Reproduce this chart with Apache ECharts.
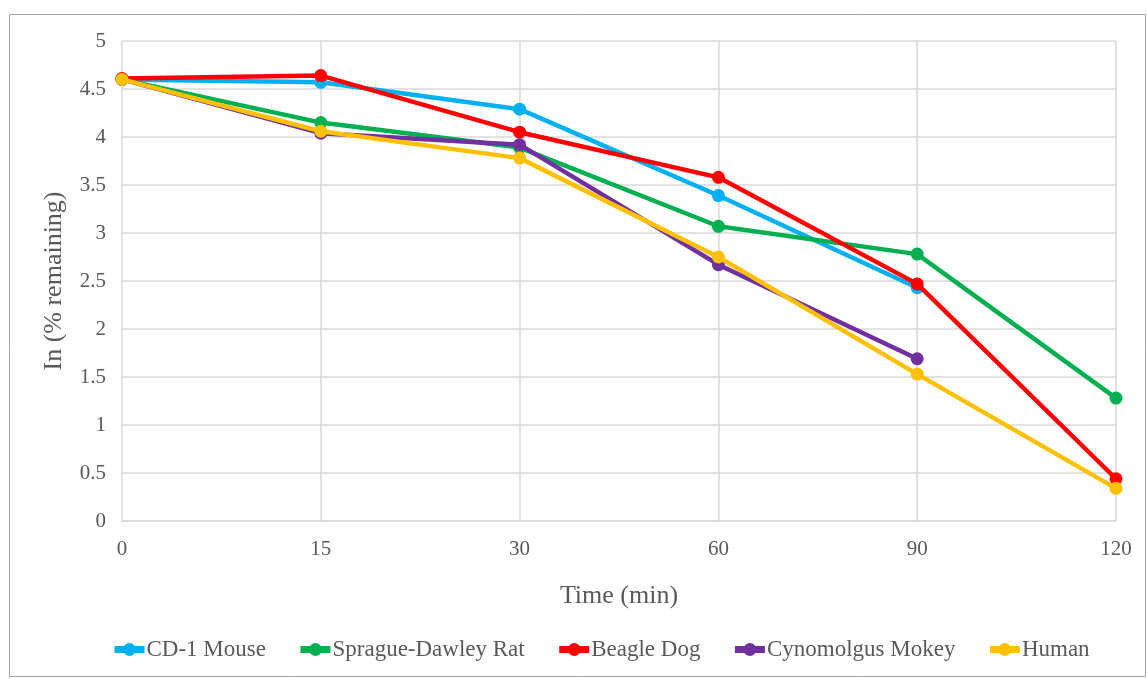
<!DOCTYPE html>
<html>
<head>
<meta charset="utf-8">
<script src="https://cdn.jsdelivr.net/npm/echarts@6/dist/echarts.min.js"></script>
<style>html,body{margin:0;padding:0;background:#fff}#c{width:1147px;height:679px}</style>
</head>
<body>
<div id="c"></div>
<script>
const categories = ['0', '15', '30', '60', '90', '120'];
const seriesNames = ['CD-1 Mouse', 'Sprague-Dawley Rat', 'Beagle Dog', 'Cynomolgus Mokey', 'Human'];
const mouse = [4.60, 4.57, 4.29, 3.39, 2.43, null];
const rat = [4.60, 4.15, 3.89, 3.07, 2.78, 1.28];
const dog = [4.61, 4.64, 4.05, 3.58, 2.47, 0.44];
const monkey = [4.60, 4.04, 3.92, 2.67, 1.69, null];
const human = [4.60, 4.06, 3.78, 2.75, 1.53, 0.34];
const colors = ['#00B0F0', '#00B050', '#FF0000', '#7030A0', '#FFC000'];
const allData = [mouse, rat, dog, monkey, human];

const font = 'Liberation Serif, Times New Roman, serif';
const chart = echarts.init(document.getElementById('c'));
chart.setOption({
  animation: false,
  textStyle: { fontFamily: font },
  graphic: [{
    type: 'rect', shape: { x: 9.5, y: 14.5, width: 1136, height: 662 },
    style: { fill: 'none', stroke: '#A6A6A6', lineWidth: 1 }, silent: true
  }],
  grid: { left: 122, right: 31, top: 41, bottom: 158 },
  legend: {
    top: 633, left: 106, itemGap: 31, itemWidth: 30, itemHeight: 16,
    textStyle: { fontFamily: font, fontSize: 23, color: '#595959', padding: [0, 0, 0, -3] },
    lineStyle: { width: 7 },
    data: seriesNames
  },
  xAxis: {
    type: 'category', data: categories, boundaryGap: false,
    name: 'Time (min)', nameLocation: 'middle', nameGap: 62,
    nameTextStyle: { fontFamily: font, fontSize: 26, color: '#595959' },
    axisLine: { lineStyle: { color: '#D9D9D9', width: 1.5 } },
    axisTick: { show: false },
    axisLabel: { fontFamily: font, fontSize: 21, color: '#595959', margin: 18 },
    splitLine: { show: true, lineStyle: { color: '#D9D9D9', width: 1.5 } }
  },
  yAxis: {
    type: 'value', min: 0, max: 5, interval: 0.5,
    name: 'In (% remaining)', nameLocation: 'middle', nameGap: 55,
    nameTextStyle: { fontFamily: font, fontSize: 26, color: '#595959' },
    axisLine: { show: false }, axisTick: { show: false },
    axisLabel: { fontFamily: font, fontSize: 21, color: '#595959', margin: 16 },
    splitLine: { lineStyle: { color: '#D9D9D9', width: 1.5 } }
  },
  series: seriesNames.map((n, i) => ({
    name: n, type: 'line', data: allData[i],
    symbol: 'circle', symbolSize: 13,
    lineStyle: { width: 4.5, color: colors[i] },
    itemStyle: { color: colors[i] },
    z: 2 + i
  }))
});
</script>
</body>
</html>
